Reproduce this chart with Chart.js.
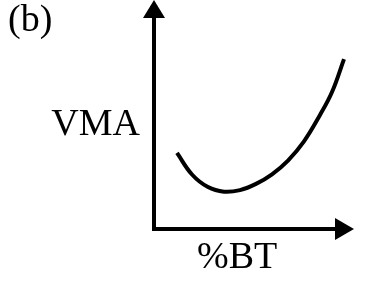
<!DOCTYPE html>
<html>
<head>
<meta charset="utf-8">
<script src="https://cdn.jsdelivr.net/npm/chart.js@4/dist/chart.umd.min.js"></script>
<style>
  html, body { margin: 0; padding: 0; background: #fff; }
  canvas { display: block; }
</style>
</head>
<body>
<canvas id="chart" width="365" height="301"></canvas>
<script>
// %BT (x) and VMA (y), arbitrary 0-100 units
const btValues = [11.5, 19, 27, 35, 43, 51, 59, 67, 75, 83, 89, 95];
const vmaValues = [33.2, 23.8, 18.3, 16.3, 17.0, 19.7, 23.9, 29.9, 38.3, 49.8, 59.8, 74.2];
const panelLabel = '(b)';
const yLabel = 'VMA';
const xLabel = '%BT';

const points = btValues.map((x, i) => ({x: x, y: vmaValues[i]}));

const FONT = '38px "Liberation Serif", "Times New Roman", serif';

const axesPlugin = {
    id: 'arrowAxes',
    afterDraw(chart) {
        const ctx = chart.ctx;
        const x0 = chart.scales.x.getPixelForValue(0);
        const y0 = chart.scales.y.getPixelForValue(0);
        const xEnd = chart.scales.x.getPixelForValue(100);
        const yEnd = chart.scales.y.getPixelForValue(100);

        ctx.save();
        ctx.strokeStyle = '#000';
        ctx.fillStyle = '#000';
        ctx.lineWidth = 4;

        // y axis
        ctx.beginPath();
        ctx.moveTo(x0, y0 + 2);
        ctx.lineTo(x0, yEnd + 12);
        ctx.stroke();
        ctx.beginPath();
        ctx.moveTo(x0, yEnd);
        ctx.lineTo(x0 - 11, yEnd + 18);
        ctx.lineTo(x0 + 11, yEnd + 18);
        ctx.closePath();
        ctx.fill();

        // x axis
        ctx.beginPath();
        ctx.moveTo(x0 - 2, y0);
        ctx.lineTo(xEnd - 12, y0);
        ctx.stroke();
        ctx.beginPath();
        ctx.moveTo(xEnd, y0);
        ctx.lineTo(xEnd - 19, y0 - 11);
        ctx.lineTo(xEnd - 19, y0 + 11);
        ctx.closePath();
        ctx.fill();

        // labels
        ctx.font = FONT;
        ctx.textAlign = 'left';
        ctx.fillText(panelLabel, 8, 31);
        ctx.textAlign = 'right';
        ctx.fillText(yLabel, x0 - 14, 135);
        ctx.textAlign = 'left';
        ctx.fillText(xLabel, 197, 268);
        ctx.restore();
    }
};

new Chart(document.getElementById('chart').getContext('2d'), {
    type: 'scatter',
    data: {
        datasets: [
            {
                data: points,
                showLine: true,
                borderColor: '#000',
                borderWidth: 4,
                pointRadius: 0,
                tension: 0.4,
                fill: false,
                clip: false
            }
        ]
    },
    options: {
        responsive: false,
        animation: false,
        events: [],
        layout: {
            padding: {left: 154, right: 11, top: 0, bottom: 72}
        },
        scales: {
            x: {type: 'linear', min: 0, max: 100, display: false},
            y: {type: 'linear', min: 0, max: 100, display: false}
        },
        plugins: {
            legend: {display: false},
            tooltip: {enabled: false}
        }
    },
    plugins: [axesPlugin]
});
</script>
</body>
</html>
